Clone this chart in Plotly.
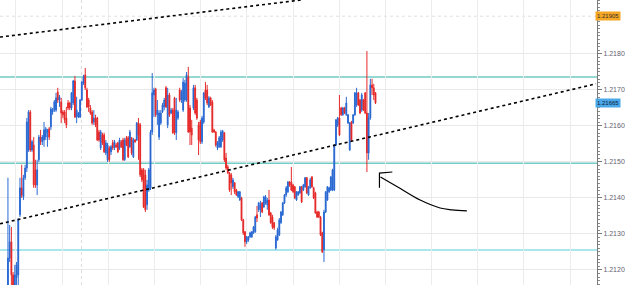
import plotly.graph_objects as go

# ---------------- data (EURUSD-like bars) ----------------
open_ = [1.21158,1.21233,1.21278,1.21186,1.21158,1.21178,1.21186,1.21353,1.21428,1.21403,
1.21456,1.21483,1.21533,1.21639,1.21533,1.21547,1.21478,1.21436,1.21506,1.21569,
1.21556,1.21561,1.21569,1.21581,1.21592,1.21597,1.21639,1.21644,1.21644,1.21694,
1.21672,1.21667,1.21639,1.21639,1.21622,1.21664,1.21664,1.21650,1.21664,1.21725,
1.21625,1.21625,1.21625,1.21672,1.21719,1.21742,1.21700,1.21672,1.21650,1.21639,
1.21611,1.21622,1.21622,1.21583,1.21539,1.21575,1.21575,1.21525,1.21506,1.21539,
1.21528,1.21553,1.21539,1.21547,1.21553,1.21539,1.21556,1.21561,1.21506,1.21567,
1.21567,1.21542,1.21567,1.21514,1.21561,1.21561,1.21608,1.21603,1.21478,1.21478,
1.21464,1.21381,1.21422,1.21428,1.21583,1.21686,1.21703,1.21631,1.21569,1.21608,
1.21639,1.21653,1.21706,1.21603,1.21686,1.21636,1.21644,1.21678,1.21581,1.21622,
1.21700,1.21672,1.21644,1.21672,1.21672,1.21736,1.21650,1.21594,1.21650,1.21706,
1.21672,1.21603,1.21611,1.21556,1.21611,1.21700,1.21700,1.21653,1.21678,1.21667,
1.21589,1.21583,1.21539,1.21542,1.21542,1.21561,1.21581,1.21511,1.21486,1.21469,
1.21464,1.21431,1.21442,1.21422,1.21403,1.21394,1.21400,1.21339,1.21306,1.21278,
1.21283,1.21292,1.21292,1.21303,1.21306,1.21353,1.21367,1.21367,1.21386,1.21375,
1.21386,1.21381,1.21394,1.21358,1.21347,1.21331,1.21261,1.21283,1.21297,1.21331,
1.21353,1.21386,1.21408,1.21417,1.21444,1.21444,1.21436,1.21431,1.21394,1.21408,
1.21414,1.21431,1.21422,1.21431,1.21456,1.21408,1.21428,1.21458,1.21428,1.21414,
1.21361,1.21361,1.21347,1.21303,1.21256,1.21361,1.21394,1.21417,1.21422,1.21422,
1.21422,1.21547,1.21603,1.21622,1.21650,1.21631,1.21650,1.21631,1.21608,1.21533,
1.21611,1.21608,1.21631,1.21658,1.21692,1.21672,1.21644,1.21672,1.21692,1.21636,
1.21525,1.21622,1.21714,1.21706,1.21692]

high = [1.21456,1.21325,1.21319,1.21194,1.21214,1.21222,1.21344,1.21456,1.21492,1.21464,
1.21492,1.21622,1.21644,1.21644,1.21561,1.21569,1.21506,1.21506,1.21575,1.21589,
1.21575,1.21611,1.21597,1.21592,1.21597,1.21653,1.21650,1.21672,1.21692,1.21706,
1.21686,1.21678,1.21644,1.21644,1.21653,1.21672,1.21667,1.21694,1.21728,1.21739,
1.21681,1.21639,1.21675,1.21725,1.21742,1.21761,1.21706,1.21678,1.21658,1.21644,
1.21644,1.21631,1.21625,1.21589,1.21589,1.21581,1.21581,1.21561,1.21553,1.21544,
1.21547,1.21561,1.21561,1.21553,1.21556,1.21567,1.21561,1.21567,1.21567,1.21572,
1.21572,1.21589,1.21569,1.21567,1.21564,1.21611,1.21622,1.21608,1.21483,1.21483,
1.21478,1.21450,1.21483,1.21589,1.21747,1.21706,1.21706,1.21672,1.21644,1.21644,
1.21664,1.21678,1.21711,1.21706,1.21692,1.21650,1.21650,1.21681,1.21678,1.21644,
1.21706,1.21700,1.21733,1.21728,1.21750,1.21764,1.21658,1.21617,1.21714,1.21714,
1.21678,1.21611,1.21617,1.21628,1.21694,1.21722,1.21714,1.21683,1.21681,1.21672,
1.21592,1.21586,1.21558,1.21572,1.21589,1.21589,1.21583,1.21525,1.21492,1.21472,
1.21469,1.21456,1.21444,1.21425,1.21419,1.21419,1.21403,1.21342,1.21308,1.21294,
1.21294,1.21306,1.21308,1.21322,1.21350,1.21378,1.21389,1.21392,1.21389,1.21406,
1.21408,1.21400,1.21422,1.21361,1.21353,1.21333,1.21297,1.21317,1.21344,1.21364,
1.21389,1.21411,1.21433,1.21447,1.21447,1.21486,1.21439,1.21433,1.21419,1.21419,
1.21433,1.21433,1.21439,1.21458,1.21458,1.21433,1.21456,1.21461,1.21431,1.21417,
1.21364,1.21364,1.21350,1.21306,1.21367,1.21419,1.21433,1.21431,1.21461,1.21481,
1.21550,1.21619,1.21625,1.21686,1.21653,1.21653,1.21653,1.21681,1.21633,1.21611,
1.21614,1.21633,1.21694,1.21706,1.21694,1.21675,1.21692,1.21675,1.21694,1.21808,
1.21636,1.21731,1.21731,1.21717,1.21694]

low = [1.21144,1.21222,1.21144,1.21139,1.21139,1.21144,1.21158,1.21347,1.21400,1.21394,
1.21450,1.21472,1.21528,1.21528,1.21528,1.21428,1.21428,1.21408,1.21500,1.21547,
1.21547,1.21542,1.21561,1.21542,1.21561,1.21589,1.21631,1.21639,1.21639,1.21664,
1.21653,1.21608,1.21622,1.21608,1.21594,1.21644,1.21644,1.21644,1.21658,1.21622,
1.21608,1.21622,1.21622,1.21669,1.21714,1.21700,1.21650,1.21639,1.21631,1.21603,
1.21603,1.21597,1.21558,1.21556,1.21533,1.21547,1.21525,1.21519,1.21500,1.21500,
1.21519,1.21533,1.21533,1.21539,1.21525,1.21533,1.21539,1.21503,1.21503,1.21544,
1.21511,1.21539,1.21519,1.21511,1.21553,1.21558,1.21506,1.21458,1.21444,1.21372,
1.21361,1.21367,1.21417,1.21422,1.21575,1.21625,1.21625,1.21603,1.21561,1.21603,
1.21636,1.21644,1.21650,1.21594,1.21625,1.21633,1.21578,1.21575,1.21561,1.21617,
1.21667,1.21664,1.21639,1.21667,1.21667,1.21581,1.21547,1.21547,1.21644,1.21631,
1.21617,1.21519,1.21550,1.21550,1.21606,1.21672,1.21658,1.21650,1.21656,1.21581,
1.21581,1.21542,1.21533,1.21539,1.21539,1.21556,1.21500,1.21478,1.21467,1.21417,
1.21408,1.21425,1.21411,1.21406,1.21400,1.21392,1.21336,1.21297,1.21264,1.21272,
1.21278,1.21289,1.21289,1.21300,1.21303,1.21333,1.21361,1.21347,1.21358,1.21372,
1.21381,1.21367,1.21350,1.21328,1.21314,1.21311,1.21256,1.21281,1.21294,1.21328,
1.21350,1.21383,1.21403,1.21414,1.21431,1.21419,1.21414,1.21397,1.21392,1.21406,
1.21411,1.21386,1.21419,1.21428,1.21411,1.21406,1.21425,1.21428,1.21397,1.21356,
1.21344,1.21344,1.21294,1.21247,1.21222,1.21358,1.21392,1.21414,1.21419,1.21419,
1.21419,1.21544,1.21597,1.21572,1.21628,1.21628,1.21633,1.21628,1.21606,1.21531,
1.21558,1.21606,1.21628,1.21653,1.21656,1.21633,1.21639,1.21642,1.21633,1.21472,
1.21506,1.21617,1.21686,1.21672,1.21661]

close = [1.21233,1.21278,1.21186,1.21158,1.21186,1.21214,1.21339,1.21428,1.21408,1.21456,
1.21483,1.21611,1.21639,1.21533,1.21556,1.21436,1.21436,1.21478,1.21569,1.21556,
1.21569,1.21589,1.21592,1.21589,1.21569,1.21647,1.21644,1.21667,1.21678,1.21672,
1.21681,1.21636,1.21631,1.21617,1.21603,1.21650,1.21650,1.21692,1.21725,1.21625,
1.21644,1.21636,1.21672,1.21722,1.21736,1.21706,1.21653,1.21653,1.21636,1.21608,
1.21622,1.21603,1.21561,1.21561,1.21583,1.21553,1.21528,1.21553,1.21547,1.21506,
1.21542,1.21539,1.21556,1.21542,1.21528,1.21561,1.21542,1.21506,1.21561,1.21547,
1.21514,1.21583,1.21525,1.21561,1.21556,1.21608,1.21575,1.21464,1.21450,1.21375,
1.21367,1.21436,1.21478,1.21583,1.21692,1.21700,1.21631,1.21644,1.21636,1.21636,
1.21658,1.21672,1.21653,1.21686,1.21631,1.21644,1.21581,1.21581,1.21644,1.21639,
1.21672,1.21694,1.21722,1.21719,1.21742,1.21583,1.21583,1.21575,1.21706,1.21636,
1.21622,1.21561,1.21556,1.21622,1.21692,1.21678,1.21664,1.21678,1.21658,1.21583,
1.21583,1.21547,1.21553,1.21567,1.21583,1.21586,1.21506,1.21483,1.21469,1.21422,
1.21442,1.21450,1.21417,1.21408,1.21417,1.21417,1.21339,1.21303,1.21278,1.21292,
1.21292,1.21303,1.21306,1.21319,1.21347,1.21344,1.21386,1.21381,1.21361,1.21403,
1.21403,1.21394,1.21353,1.21331,1.21319,1.21317,1.21292,1.21311,1.21339,1.21361,
1.21386,1.21408,1.21428,1.21444,1.21436,1.21422,1.21417,1.21400,1.21417,1.21417,
1.21431,1.21389,1.21436,1.21456,1.21414,1.21431,1.21450,1.21431,1.21400,1.21358,
1.21347,1.21347,1.21297,1.21250,1.21361,1.21417,1.21431,1.21428,1.21458,1.21478,
1.21547,1.21617,1.21622,1.21575,1.21631,1.21650,1.21636,1.21664,1.21631,1.21608,
1.21561,1.21631,1.21692,1.21692,1.21658,1.21636,1.21686,1.21644,1.21636,1.21525,
1.21622,1.21714,1.21706,1.21686,1.21664]

bar_index = list(range(len(close)))

# price scale labels
tick_prices = [1.2120, 1.2130, 1.2140, 1.2150, 1.2160, 1.2170, 1.2180]
tick_labels = ["1.2120", "1.2130", "1.2140", "1.2150", "1.2160", "1.2170", "1.2180"]

# horizontal levels drawn on the chart
level_teal = [1.21736, 1.21496]
level_cyan = [1.21255]
level_dotted = 1.21905
ask_label = "1.21905"
bid_price = 1.21664
bid_label = "1.21665"

# trend lines (anchor points: bar index, price)
trend_upper_x = [-4.63, 170.6]
trend_upper_y = [1.21847, 1.21950]
trend_lower_x = [-4.63, 342.4]
trend_lower_y = [1.21328, 1.21717]

# hand drawn arrow (bar index, price)
arrow_x = [267.2, 258.5, 251.6, 240.0, 226.7, 216.9]
arrow_y = [1.21364, 1.21367, 1.21372, 1.21394, 1.21431, 1.21458]
arrowhead_x = [216.3, 216.3, 223.8]
arrowhead_y = [1.21428, 1.21469, 1.21472]

period_sep_x = 42.8

X_RANGE = [-4.63, 342.97]
Y_RANGE = [1.21158, 1.21950]

fig = go.Figure()

fig.add_trace(go.Candlestick(
    x=bar_index, open=open_, high=high, low=low, close=close,
    increasing=dict(line=dict(color="#2a6ad4", width=1), fillcolor="#0a3fae"),
    decreasing=dict(line=dict(color="#e62a2a", width=1), fillcolor="#d80000"),
    whiskerwidth=0, showlegend=False, hoverinfo="skip"))

fig.add_trace(go.Scatter(x=trend_upper_x, y=trend_upper_y, mode="lines",
                         line=dict(color="black", width=1.6, dash="dot"),
                         showlegend=False, hoverinfo="skip"))
fig.add_trace(go.Scatter(x=trend_lower_x, y=trend_lower_y, mode="lines",
                         line=dict(color="black", width=1.6, dash="dot"),
                         showlegend=False, hoverinfo="skip"))
fig.add_trace(go.Scatter(x=arrow_x, y=arrow_y, mode="lines",
                         line=dict(color="black", width=1.2, shape="spline"),
                         showlegend=False, hoverinfo="skip"))
fig.add_trace(go.Scatter(x=arrowhead_x, y=arrowhead_y, mode="lines",
                         line=dict(color="black", width=1.2),
                         showlegend=False, hoverinfo="skip"))

shapes = []
for lv in level_teal:
    shapes.append(dict(type="line", xref="paper", x0=0, x1=1, yref="y", y0=lv, y1=lv,
                       line=dict(color="#72cbc4", width=1.5), layer="below"))
for lv in level_cyan:
    shapes.append(dict(type="line", xref="paper", x0=0, x1=1, yref="y", y0=lv, y1=lv,
                       line=dict(color="#8edfe6", width=1.5), layer="below"))
shapes.append(dict(type="line", xref="paper", x0=0, x1=1, yref="y",
                   y0=level_dotted, y1=level_dotted,
                   line=dict(color="#e0e0e0", width=1, dash="dot"), layer="below"))
shapes.append(dict(type="line", xref="x", x0=period_sep_x, x1=period_sep_x, yref="paper",
                   y0=0, y1=1, line=dict(color="#dcdcdc", width=1, dash="dot"), layer="below"))
fig.update_layout(shapes=shapes)

fig.add_annotation(xref="paper", x=1.0399, xanchor="right", yref="y", y=level_dotted,
                   text=ask_label, showarrow=False, bgcolor="#f5a623",
                   font=dict(size=6, color="#333333", family="Liberation Sans"),
                   borderpad=1)
fig.add_annotation(xref="paper", x=1.0399, xanchor="right", yref="y", y=bid_price,
                   text=bid_label, showarrow=False, bgcolor="#4aa8e8",
                   font=dict(size=6, color="#10203a", family="Liberation Sans"),
                   borderpad=1)

fig.update_layout(
    width=625, height=285,
    margin=dict(l=0, r=24, t=0, b=0),
    paper_bgcolor="white", plot_bgcolor="white",
    xaxis=dict(range=X_RANGE, showgrid=True, gridcolor="#ececec", gridwidth=1,
               tick0=4.63, dtick=26.89, showticklabels=False, ticks="",
               zeroline=False, showline=False, rangeslider=dict(visible=False),
               fixedrange=True),
    yaxis=dict(range=Y_RANGE, side="right", tickvals=tick_prices, ticktext=tick_labels,
               showgrid=True, gridcolor="#e9e9e9", gridwidth=1,
               showline=True, linecolor="#7a7a7a", linewidth=1,
               ticks="outside", ticklen=4, tickcolor="#7a7a7a",
               minor=dict(dtick=0.0001, tick0=1.2, ticks="outside", ticklen=2,
                          tickcolor="#8a8a8a", showgrid=False),
               tickfont=dict(size=7, color="#5f6070", family="Liberation Sans"),
               zeroline=False, fixedrange=True),
)

fig.write_html("out.html")
